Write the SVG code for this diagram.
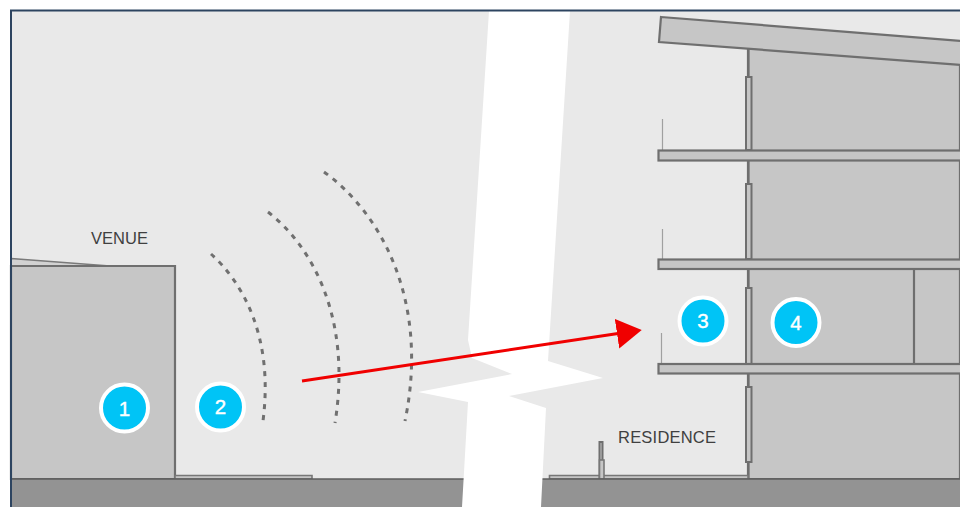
<svg xmlns="http://www.w3.org/2000/svg" width="960" height="507" viewBox="0 0 960 507">
<style>
.b{fill:#c6c6c6;stroke:#6f6f6f;stroke-width:2.200}
.w{fill:#c6c6c6;stroke:#6f6f6f;stroke-width:2}
.g{fill:#c6c6c6;stroke:#777;stroke-width:1.600}
.l{fill:none;stroke:#6e6e6e;stroke-width:2.200}
.r{fill:none;stroke:#a0a0a0;stroke-width:1.200}
.wave{fill:none;stroke:#707070;stroke-width:3;stroke-dasharray:5 6}
.badge{fill:#00c4f6;stroke:#fff;stroke-width:4}
.num{font-family:"Liberation Sans",Arial,sans-serif;font-size:20.500px;fill:#fff;text-anchor:middle;stroke:#fff;stroke-width:.4}
.t{font-family:"Liberation Sans",Arial,sans-serif;fill:#404040}
</style>
<defs><marker id="head" markerUnits="userSpaceOnUse" markerWidth="30" markerHeight="32" refX="1" refY="15" orient="auto"><path d="M0 0L25 15L0 30Z" fill="#f00000"/></marker></defs>
<rect width="960" height="507" fill="#fff"/>
<rect x="11" y="11" width="949" height="496" fill="#e9e9e9"/>
<g id="residence">
<path class="b" d="M748 48V479H960V48Z"/>
<path class="l" d="M914 269V364"/>
<path class="b" d="M661 17L962 41V65L659 42Z"/>
<path class="l" d="M748.500 48V479"/>
<rect class="w" x="746" y="77" width="5.500" height="73"/>
<rect class="w" x="746" y="184" width="5.500" height="75"/>
<rect class="w" x="746" y="288" width="5.500" height="76"/>
<rect class="w" x="746" y="387" width="5.500" height="75"/>
<path class="r" d="M662.500 119V150M662.500 229V259M661.500 333V364"/>
<rect class="b" x="658.500" y="150.500" width="310" height="10"/>
<rect class="b" x="658.500" y="259.500" width="310" height="9.500"/>
<rect class="b" x="658.500" y="364" width="310" height="9.500"/>
<path class="g" d="M549.500 479V475.500H748V479Z"/>
<rect class="w" x="599.500" y="442" width="3" height="37"/>
<rect class="g" x="599.500" y="460" width="4.500" height="19"/>
<text class="t" x="618" y="443" font-size="16.500" textLength="98">RESIDENCE</text>
</g>
<g id="venue">
<path d="M11 258.500L110 266H11Z" fill="#d2d2d2" stroke="#7a7a7a" stroke-width="1.500"/>
<path class="b" d="M11 266H175V479H11Z"/>
<path class="g" d="M175 479V475.500H312V479Z"/>
<text class="t" x="91" y="244" font-size="16.500" textLength="57">VENUE</text>
</g>
<g id="ground"><rect x="11" y="479" width="949" height="28" fill="#939393"/><path d="M11 479H960" stroke="#5c5c5c" stroke-width="1.500"/></g>
<g id="waves">
<path class="wave" d="M211 254C242 282 274 336 263 421"/>
<path class="wave" d="M268 212C312 246 352 318 335 423"/>
<path class="wave" d="M324 172C380 212 430 300 405 421"/>
</g>
<path id="gap" fill="#fff" d="M489 11H570L548 361L603 378L509 396L546 408L541 507H462L468 402L418 392L512 374L472 358L468 340Z"/>
<g id="connectors"><path d="M302 381L618 333.500" stroke="#f00000" stroke-width="3" fill="none" marker-end="url(#head)"/></g>
<g id="n1"><circle class="badge" cx="124.500" cy="408" r="23.500"/><text class="num" x="124.500" y="415.500">1</text></g>
<g id="n2"><circle class="badge" cx="220.500" cy="407" r="23.500"/><text class="num" x="220.500" y="414">2</text></g>
<g id="n3"><circle class="badge" cx="703" cy="321" r="23.500"/><text class="num" x="703" y="328">3</text></g>
<g id="n4"><circle class="badge" cx="796" cy="322.500" r="23.500"/><text class="num" x="796" y="329.500">4</text></g>
<path id="frame" d="M11 507V10.500H960" fill="none" stroke="#2d4460" stroke-width="2"/>
</svg>
